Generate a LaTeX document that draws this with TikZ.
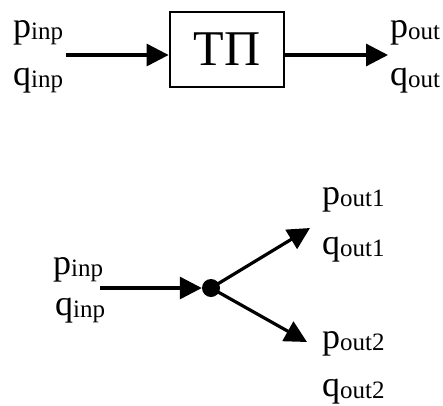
\documentclass[tikz,border=0pt]{standalone}
\usepackage{fontspec}
\setmainfont{Liberation Serif}
\usetikzlibrary{arrows.meta}
% quantity with a lowered, smaller subscript
\newcommand{\qty}[2]{{\fontsize{36}{36}\selectfont #1}{\fontsize{25}{25}\selectfont\raisebox{-2pt}{#2}}}
\begin{document}
\begin{tikzpicture}[x=1pt,y=-1pt,
  lbl/.style={anchor=base west,inner sep=0pt},
  flow/.style={line width=3.2pt,-{Triangle[length=22pt,width=22pt]}},
  blockbox/.style={draw,line width=2.8pt,minimum width=114pt,minimum height=75pt,inner sep=0pt,font=\fontsize{50}{50}\selectfont},
  junction/.style={circle,fill,inner sep=0pt,minimum size=18pt}]
\useasboundingbox (0,0) rectangle (443,405);

% converter block with one input and one output
\node[blockbox] (tp) at (227,49.5) {ТП};
\node[lbl] (pin) at (13,37) {\qty{p}{inp}};
\node[lbl] (qin) at (13,85) {\qty{q}{inp}};
\node[lbl] (pout) at (390,37) {\qty{p}{out}};
\node[lbl] (qout) at (390,85) {\qty{q}{out}};
\coordinate (inA) at (66,55);
\coordinate (outA) at (388,55);
\draw[flow] (inA) -- (tp.west |- inA);
\draw[flow] (tp.east |- outA) -- (outA);

% splitting node with two outputs
\node[junction] (dot) at (211,288) {};
\node[lbl] (pin2) at (53,274) {\qty{p}{inp}};
\node[lbl] (qin2) at (55,315) {\qty{q}{inp}};
\node[lbl] (po1) at (322,204) {\qty{p}{out1}};
\node[lbl] (qo1) at (322,254) {\qty{q}{out1}};
\node[lbl] (po2) at (322,348) {\qty{p}{out2}};
\node[lbl] (qo2) at (322,396) {\qty{q}{out2}};
\coordinate (inB) at (100,288);
\coordinate (up) at (310,228);
\coordinate (down) at (307,342);
\draw[flow] (inB) -- (dot.west);
\draw[flow] (dot.center) -- (up);
\draw[flow] (dot.center) -- (down);
\end{tikzpicture}
\end{document}
